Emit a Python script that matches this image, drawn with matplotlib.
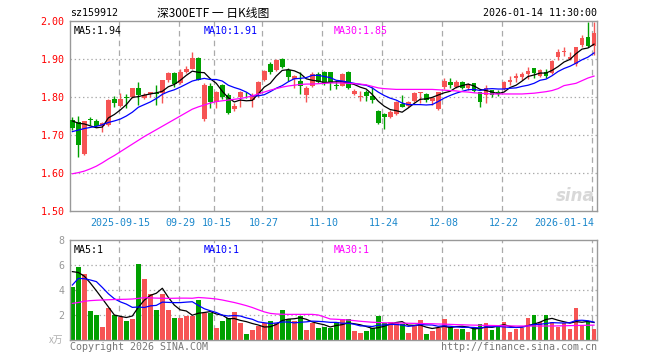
import numpy as np
import matplotlib
matplotlib.use("Agg")
import matplotlib.pyplot as plt

# Daily K line of sz159912.
# Dates are trading days, tick positions are candle indices.
DATE_TICKS = [8, 18, 24, 32, 42, 52, 62, 72, 87]
DATE_LABELS = ["2025-09-15", "09-29", "10-15", "10-27", "11-10",
               "11-24", "12-08", "12-22", "2026-01-14"]

OPEN = [1.740, 1.733, 1.650, 1.741, 1.737, 1.723, 1.726, 1.794, 1.776, 1.800,
        1.799, 1.825, 1.797, 1.807, 1.810, 1.810, 1.845, 1.864, 1.836, 1.867,
        1.875, 1.902, 1.742, 1.830, 1.786, 1.832, 1.805, 1.769, 1.800, 1.806,
        1.792, 1.808, 1.845, 1.888, 1.871, 1.900, 1.871, 1.848, 1.842, 1.805,
        1.829, 1.860, 1.865, 1.865, 1.830, 1.830, 1.866, 1.808, 1.801, 1.812,
        1.803, 1.763, 1.754, 1.748, 1.755, 1.782, 1.777, 1.789, 1.810, 1.807,
        1.790, 1.768, 1.827, 1.839, 1.827, 1.839, 1.823, 1.836, 1.812, 1.805,
        1.818, 1.812, 1.821, 1.840, 1.849, 1.853, 1.860, 1.876, 1.856, 1.865,
        1.862, 1.904, 1.918, 1.900, 1.886, 1.937, 1.959, 1.935]
HIGH = [1.747, 1.750, 1.738, 1.748, 1.741, 1.735, 1.795, 1.803, 1.810, 1.808,
        1.825, 1.840, 1.810, 1.814, 1.832, 1.846, 1.867, 1.867, 1.873, 1.882,
        1.918, 1.906, 1.836, 1.836, 1.815, 1.835, 1.810, 1.784, 1.815, 1.812,
        1.810, 1.843, 1.870, 1.891, 1.900, 1.902, 1.876, 1.858, 1.865, 1.828,
        1.865, 1.865, 1.868, 1.867, 1.842, 1.864, 1.868, 1.821, 1.817, 1.818,
        1.827, 1.766, 1.757, 1.765, 1.789, 1.805, 1.789, 1.812, 1.813, 1.810,
        1.800, 1.814, 1.849, 1.849, 1.845, 1.842, 1.836, 1.837, 1.814, 1.832,
        1.819, 1.818, 1.842, 1.854, 1.862, 1.865, 1.880, 1.877, 1.875, 1.873,
        1.897, 1.926, 1.932, 1.918, 1.932, 1.963, 1.998, 1.997]
LOW = [1.713, 1.643, 1.648, 1.726, 1.720, 1.709, 1.723, 1.775, 1.775, 1.770,
       1.797, 1.779, 1.794, 1.801, 1.779, 1.783, 1.840, 1.827, 1.833, 1.864,
       1.874, 1.845, 1.738, 1.772, 1.770, 1.795, 1.754, 1.763, 1.775, 1.797,
       1.774, 1.800, 1.843, 1.860, 1.868, 1.876, 1.843, 1.823, 1.808, 1.788,
       1.826, 1.836, 1.832, 1.818, 1.820, 1.828, 1.820, 1.805, 1.789, 1.790,
       1.785, 1.728, 1.716, 1.745, 1.752, 1.774, 1.775, 1.786, 1.783, 1.786,
       1.779, 1.766, 1.822, 1.823, 1.823, 1.820, 1.818, 1.814, 1.775, 1.783,
       1.801, 1.803, 1.818, 1.832, 1.840, 1.844, 1.847, 1.850, 1.853, 1.851,
       1.860, 1.897, 1.909, 1.897, 1.882, 1.932, 1.932, 1.910]
CLOSE = [1.718, 1.674, 1.737, 1.739, 1.725, 1.731, 1.792, 1.785, 1.796, 1.798,
         1.823, 1.804, 1.805, 1.812, 1.809, 1.845, 1.864, 1.834, 1.867, 1.874,
         1.902, 1.846, 1.832, 1.786, 1.812, 1.800, 1.758, 1.777, 1.812, 1.804,
         1.805, 1.840, 1.868, 1.865, 1.897, 1.878, 1.852, 1.854, 1.830, 1.825,
         1.860, 1.840, 1.836, 1.836, 1.829, 1.860, 1.823, 1.816, 1.803, 1.803,
         1.792, 1.732, 1.748, 1.760, 1.786, 1.775, 1.786, 1.810, 1.812, 1.792,
         1.797, 1.812, 1.842, 1.832, 1.840, 1.825, 1.832, 1.816, 1.786, 1.825,
         1.805, 1.811, 1.840, 1.845, 1.856, 1.860, 1.868, 1.862, 1.871, 1.856,
         1.895, 1.918, 1.921, 1.906, 1.931, 1.954, 1.935, 1.968]

# moving averages as drawn on the chart (they include days before the window)
MA5 = [1.737, 1.731, 1.729, 1.724, 1.719, 1.721, 1.745, 1.754, 1.766, 1.780,
       1.799, 1.801, 1.805, 1.808, 1.811, 1.815, 1.827, 1.833, 1.844, 1.857,
       1.868, 1.865, 1.864, 1.848, 1.836, 1.815, 1.798, 1.787, 1.792, 1.790,
       1.791, 1.808, 1.826, 1.836, 1.855, 1.870, 1.872, 1.869, 1.862, 1.848,
       1.844, 1.842, 1.838, 1.839, 1.840, 1.840, 1.837, 1.833, 1.826, 1.821,
       1.807, 1.789, 1.776, 1.767, 1.764, 1.760, 1.771, 1.783, 1.794, 1.795,
       1.799, 1.805, 1.811, 1.815, 1.825, 1.830, 1.834, 1.829, 1.820, 1.817,
       1.813, 1.809, 1.813, 1.825, 1.831, 1.842, 1.854, 1.858, 1.863, 1.863,
       1.870, 1.880, 1.892, 1.899, 1.914, 1.926, 1.929, 1.939]
MA10 = [1.709, 1.713, 1.717, 1.720, 1.723, 1.727, 1.733, 1.737, 1.742,
        1.750, 1.760, 1.773, 1.780, 1.787, 1.796, 1.807, 1.814, 1.819, 1.826,
        1.834, 1.842, 1.846, 1.849, 1.846, 1.846, 1.842, 1.831, 1.825, 1.820,
        1.813, 1.803, 1.803, 1.806, 1.814, 1.823, 1.830, 1.840, 1.848, 1.849,
        1.851, 1.857, 1.857, 1.854, 1.851, 1.844, 1.842, 1.839, 1.836, 1.833,
        1.831, 1.824, 1.813, 1.804, 1.797, 1.792, 1.784, 1.780, 1.780, 1.780,
        1.779, 1.780, 1.788, 1.797, 1.804, 1.810, 1.815, 1.819, 1.820, 1.817,
        1.821, 1.822, 1.821, 1.821, 1.823, 1.824, 1.828, 1.831, 1.836, 1.844,
        1.847, 1.856, 1.867, 1.875, 1.881, 1.889, 1.898, 1.905, 1.916]
MA30 = [1.598, 1.601, 1.605, 1.611, 1.618, 1.627, 1.637, 1.646, 1.656, 1.666,
        1.676, 1.686, 1.696, 1.705, 1.714, 1.723, 1.732, 1.741, 1.750, 1.759,
        1.768, 1.774, 1.779, 1.784, 1.788, 1.790, 1.792, 1.794, 1.796, 1.799,
        1.803, 1.808, 1.813, 1.818, 1.822, 1.826, 1.829, 1.831, 1.833, 1.834,
        1.834, 1.835, 1.836, 1.837, 1.837, 1.837, 1.836, 1.835, 1.834, 1.832,
        1.828, 1.824, 1.822, 1.821, 1.820, 1.820, 1.820, 1.820, 1.820, 1.820,
        1.820, 1.819, 1.818, 1.817, 1.816, 1.814, 1.813, 1.811, 1.810, 1.809,
        1.808, 1.808, 1.808, 1.808, 1.808, 1.808, 1.809, 1.810, 1.812, 1.814,
        1.817, 1.822, 1.830, 1.833, 1.836, 1.843, 1.850, 1.855]

# volume, in units of 10k lots (x万)
VOLUME = [4.27, 5.81, 5.28, 2.32, 2.00, 1.07, 2.59, 2.00, 1.81, 1.52,
          1.68, 6.08, 4.88, 3.68, 2.40, 3.68, 2.40, 1.79, 1.79, 1.95,
          1.95, 3.20, 2.13, 2.13, 0.99, 1.52, 1.73, 2.21, 1.39, 0.48,
          0.80, 1.12, 1.39, 1.52, 1.39, 2.40, 1.65, 1.55, 1.92, 0.80,
          1.33, 0.99, 1.07, 1.00, 1.41, 1.68, 1.68, 0.72, 0.59, 0.72,
          0.93, 1.95, 1.33, 1.44, 1.33, 1.28, 0.59, 1.20, 1.60, 0.48,
          0.75, 0.99, 1.68, 1.07, 0.88, 0.88, 0.64, 0.99, 1.28, 1.36,
          0.80, 1.20, 1.44, 0.64, 0.91, 0.99, 1.79, 2.00, 1.44, 2.00,
          1.44, 1.04, 1.36, 0.91, 2.59, 1.20, 1.41, 0.91]
VOL_MA5 = [5.47, 5.40, 5.10, 4.55, 3.94, 3.30, 2.65, 2.00, 1.89, 1.80,
           1.92, 2.62, 3.19, 3.57, 3.74, 4.14, 3.41, 2.79, 2.41, 2.32,
           1.98, 2.14, 2.20, 2.27, 2.08, 1.99, 1.70, 1.72, 1.57, 1.47,
           1.32, 1.20, 1.04, 1.06, 1.24, 1.56, 1.67, 1.70, 1.78, 1.66,
           1.45, 1.32, 1.22, 1.04, 1.16, 1.23, 1.37, 1.30, 1.22, 1.08,
           0.93, 0.98, 1.10, 1.27, 1.40, 1.47, 1.19, 1.17, 1.20, 1.03,
           0.92, 1.00, 1.10, 0.99, 1.07, 1.10, 1.03, 0.89, 0.93, 1.03,
           1.01, 1.13, 1.22, 1.09, 1.00, 1.04, 1.15, 1.27, 1.43, 1.64,
           1.73, 1.58, 1.46, 1.35, 1.47, 1.42, 1.49, 1.40]
VOL_MA10 = [4.40, 4.93, 4.90, 4.80, 4.67, 4.20, 3.70, 3.30, 3.05,
            2.87, 2.61, 2.64, 2.60, 2.73, 2.77, 3.03, 3.01, 2.99, 2.99,
            3.03, 3.06, 2.77, 2.50, 2.34, 2.20, 1.99, 1.92, 1.96, 1.92,
            1.77, 1.66, 1.45, 1.38, 1.32, 1.36, 1.44, 1.44, 1.37, 1.42,
            1.45, 1.51, 1.49, 1.46, 1.41, 1.41, 1.34, 1.34, 1.26, 1.13,
            1.12, 1.08, 1.18, 1.20, 1.25, 1.24, 1.20, 1.09, 1.14, 1.24,
            1.21, 1.20, 1.10, 1.13, 1.10, 1.05, 1.01, 1.02, 1.00, 0.96,
            1.05, 1.06, 1.08, 1.05, 1.01, 1.01, 1.03, 1.14, 1.24, 1.26,
            1.32, 1.39, 1.37, 1.36, 1.39, 1.56, 1.58, 1.54, 1.43]
VOL_MA30 = [2.93, 3.00, 3.10, 3.15, 3.18, 3.20, 3.22, 3.24, 3.25, 3.26,
            3.28, 3.33, 3.39, 3.37, 3.35, 3.34, 3.33, 3.34, 3.35, 3.35,
            3.34, 3.40, 3.37, 3.33, 3.28, 3.20, 3.10, 3.00, 2.88, 2.75,
            2.60, 2.42, 2.25, 2.13, 2.08, 2.06, 2.05, 2.05, 2.05, 2.05,
            2.05, 2.00, 1.85, 1.68, 1.66, 1.63, 1.60, 1.55, 1.50, 1.46,
            1.42, 1.40, 1.38, 1.37, 1.36, 1.35, 1.34, 1.33, 1.32, 1.31,
            1.30, 1.28, 1.27, 1.25, 1.23, 1.22, 1.20, 1.19, 1.18, 1.17,
            1.16, 1.15, 1.14, 1.13, 1.12, 1.12, 1.12, 1.12, 1.12, 1.12,
            1.12, 1.13, 1.14, 1.15, 1.16, 1.17, 1.18, 1.19]

PRICE_TICKS = [1.50, 1.60, 1.70, 1.80, 1.90, 2.00]
VOL_TICKS = [2, 4, 6, 8]

# colours used by the Sina chart
RED = "#f65454"
GREEN = "#00a000"
GRID = "#aaaaaa"
FRAME = "#999999"
DATE_BLUE = "#1c88cc"
MONO = "DejaVu Sans Mono"
CJK = ["Noto Sans CJK SC", "DejaVu Sans"]

plt.rcParams["lines.scale_dashes"] = False

fig = plt.figure(figsize=(6.6, 3.6), dpi=100)
ax = fig.add_axes([70 / 660, 1 - 211 / 360, 527 / 660, 190 / 360])
axv = fig.add_axes([70 / 660, 1 - 340 / 360, 527 / 660, 100 / 360])

x = np.arange(len(CLOSE))
o, h, l, c = (np.array(a) for a in (OPEN, HIGH, LOW, CLOSE))
colors = np.where(c >= o, RED, GREEN)


def style_axes(a):
    for s in a.spines.values():
        s.set_color(FRAME)
        s.set_linewidth(1.0)
    a.tick_params(length=0)
    a.set_xlim(-0.4, 87.5)
    for t in DATE_TICKS:
        a.axvline(t - 0.3, color=GRID, linewidth=0.9, linestyle=(0, (4, 3)), zorder=0)


# ---- price panel -------------------------------------------------
style_axes(ax)
ax.set_ylim(1.50, 2.00)
for p in PRICE_TICKS[1:-1]:
    ax.axhline(p, color=GRID, linewidth=0.9, linestyle=(0, (1, 2)), zorder=0)

ax.vlines(x, l, h, colors=colors, linewidth=1.0, zorder=2)
body = np.maximum(np.abs(c - o), 0.0015)
ax.bar(x, body, bottom=np.minimum(o, c), width=0.8, color=colors, linewidth=0, zorder=3)

ax.plot(x, MA5, color="black", linewidth=0.9, zorder=4)
ax.plot(x, MA10, color="#0000ff", linewidth=0.9, zorder=4)
ax.plot(x, MA30, color="#ff00ff", linewidth=0.9, zorder=4)

ax.set_yticks(PRICE_TICKS)
ax.set_yticklabels([f"{p:.2f}" for p in PRICE_TICKS], color="red",
                   fontfamily=MONO, fontsize=7.2)
ax.tick_params(axis="y", pad=4)
ax.set_xticks(DATE_TICKS)
ax.set_xticklabels(DATE_LABELS, color=DATE_BLUE, fontfamily=MONO, fontsize=7.2)
ax.tick_params(axis="x", pad=5)
ax.get_xticklabels()[-1].set_horizontalalignment("right")

ax.text(0.007, 0.975, "MA5:1.94", transform=ax.transAxes, ha="left", va="top",
        fontfamily=MONO, fontsize=7.2, color="black")
ax.text(0.254, 0.975, "MA10:1.91", transform=ax.transAxes, ha="left", va="top",
        fontfamily=MONO, fontsize=7.2, color="#0000ff")
ax.text(0.501, 0.975, "MA30:1.85", transform=ax.transAxes, ha="left", va="top",
        fontfamily=MONO, fontsize=7.2, color="#ff00ff")

# faint sina watermark
ax.text(0.995, 0.03, "sina", transform=ax.transAxes, ha="right", va="bottom",
        fontsize=12, fontstyle="italic", fontweight="bold", color="#d8d8d8", zorder=1)

# ---- volume panel ------------------------------------------------
style_axes(axv)
axv.set_ylim(0, 8)
for v in VOL_TICKS[:-1]:
    axv.axhline(v, color=GRID, linewidth=0.9, linestyle=(0, (1, 2)), zorder=0)

axv.bar(x, VOLUME, width=0.8, color=colors, linewidth=0, zorder=2)
axv.plot(x, VOL_MA5, color="black", linewidth=0.9, zorder=3)
axv.plot(x, VOL_MA10, color="#0000ff", linewidth=0.9, zorder=3)
axv.plot(x, VOL_MA30, color="#ff00ff", linewidth=0.9, zorder=3)

axv.set_yticks(VOL_TICKS)
axv.set_yticklabels([str(v) for v in VOL_TICKS], color=FRAME, fontfamily=MONO, fontsize=7.2)
axv.tick_params(axis="y", pad=4)
axv.set_xticks([])
axv.text(-0.012, 0.0, "x万", transform=axv.transAxes, ha="right", va="center",
         fontfamily=CJK, fontsize=7, color="#b0b0b0")

axv.text(0.007, 0.95, "MA5:1", transform=axv.transAxes, ha="left", va="top",
         fontfamily=MONO, fontsize=7.2, color="black")
axv.text(0.254, 0.95, "MA10:1", transform=axv.transAxes, ha="left", va="top",
         fontfamily=MONO, fontsize=7.2, color="#0000ff")
axv.text(0.501, 0.95, "MA30:1", transform=axv.transAxes, ha="left", va="top",
         fontfamily=MONO, fontsize=7.2, color="#ff00ff")

# ---- header and footer -------------------------------------------
fig.text(70 / 660, 1 - 13 / 360, "sz159912", ha="left", va="center",
         fontfamily=MONO, fontsize=7.2, color="black")
fig.text(213 / 660, 1 - 13 / 360, "深300ETF 一 日K线图", ha="center", va="center",
         fontfamily=CJK, fontsize=8.5, color="black")
fig.text(597 / 660, 1 - 13 / 360, "2026-01-14 11:30:00", ha="right", va="center",
         fontfamily=MONO, fontsize=7.2, color="black")
fig.text(70 / 660, 1 - 347 / 360, "Copyright 2026 SINA.COM", ha="left", va="center",
         fontfamily=MONO, fontsize=7.2, color="#777777")
fig.text(597 / 660, 1 - 347 / 360, "http://finance.sina.com.cn", ha="right", va="center",
         fontfamily=MONO, fontsize=7.2, color="#777777")

fig.savefig("out.png", dpi=100, facecolor="white")
